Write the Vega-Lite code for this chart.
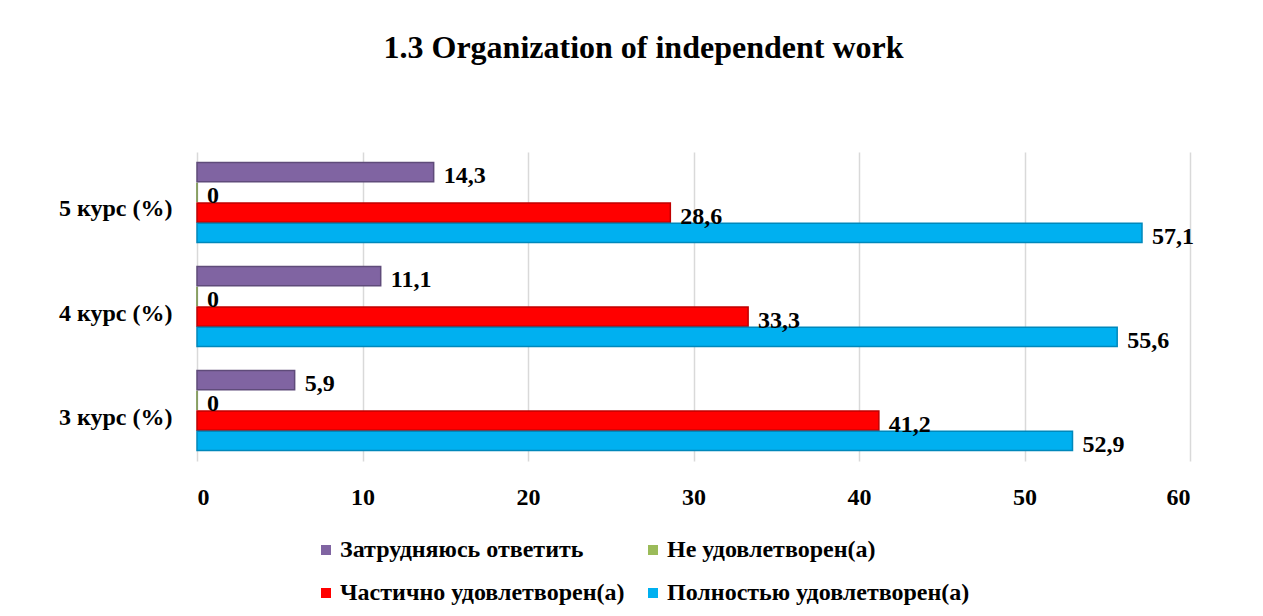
{
  "$schema": "https://vega.github.io/schema/vega-lite/v6.json",
  "width": 993,
  "height": 309,
  "autosize": {"type": "none"},
  "padding": {"left": 197, "top": 152, "right": 73, "bottom": 155},
  "background": "white",
  "title": {
    "text": "1.3 Organization of independent work",
    "font": "Liberation Serif",
    "fontSize": 32,
    "fontWeight": "bold",
    "color": "black",
    "anchor": "middle",
    "frame": "group",
    "dx": -50,
    "offset": 87
  },
  "config": {
    "view": {"stroke": null},
    "locale": {"number": {"decimal": ",", "thousands": " ", "grouping": [3], "currency": ["", ""]}}
  },
  "data": {
    "values": [
      {"course": "3 курс (%)", "series": "Затрудняюсь ответить", "value": 5.9},
      {"course": "3 курс (%)", "series": "Не удовлетворен(а)", "value": 0},
      {"course": "3 курс (%)", "series": "Частично удовлетворен(а)", "value": 41.2},
      {"course": "3 курс (%)", "series": "Полностью удовлетворен(а)", "value": 52.9},
      {"course": "4 курс (%)", "series": "Затрудняюсь ответить", "value": 11.1},
      {"course": "4 курс (%)", "series": "Не удовлетворен(а)", "value": 0},
      {"course": "4 курс (%)", "series": "Частично удовлетворен(а)", "value": 33.3},
      {"course": "4 курс (%)", "series": "Полностью удовлетворен(а)", "value": 55.6},
      {"course": "5 курс (%)", "series": "Затрудняюсь ответить", "value": 14.3},
      {"course": "5 курс (%)", "series": "Не удовлетворен(а)", "value": 0},
      {"course": "5 курс (%)", "series": "Частично удовлетворен(а)", "value": 28.6},
      {"course": "5 курс (%)", "series": "Полностью удовлетворен(а)", "value": 57.1}
    ]
  },
  "encoding": {
    "y": {
      "field": "course",
      "type": "nominal",
      "sort": ["5 курс (%)", "4 курс (%)", "3 курс (%)"],
      "scale": {"paddingInner": 0.23, "paddingOuter": 0.1},
      "axis": {
        "title": null,
        "domain": false,
        "ticks": false,
        "labelFont": "Liberation Serif",
        "labelFontSize": 24,
        "labelFontWeight": "bold",
        "labelColor": "black",
        "labelPadding": 25,
        "labelOffset": 7
      }
    },
    "yOffset": {
      "field": "series",
      "type": "nominal",
      "sort": ["Затрудняюсь ответить", "Не удовлетворен(а)", "Частично удовлетворен(а)", "Полностью удовлетворен(а)"],
      "scale": {"paddingInner": 0.05}
    },
    "x": {
      "field": "value",
      "type": "quantitative",
      "scale": {"domain": [0, 60], "nice": false},
      "axis": {
        "title": null,
        "values": [0, 10, 20, 30, 40, 50, 60],
        "domain": false,
        "ticks": false,
        "grid": true,
        "gridColor": "#D9D9D9",
        "gridWidth": 1.5,
        "labelFont": "Liberation Serif",
        "labelFontSize": 24,
        "labelFontWeight": "bold",
        "labelColor": "black",
        "labelPadding": 24
      }
    }
  },
  "layer": [
    {
      "mark": {"type": "bar", "strokeWidth": 1.5},
      "encoding": {
        "color": {
          "field": "series",
          "type": "nominal",
          "scale": {
            "domain": ["Затрудняюсь ответить", "Не удовлетворен(а)", "Частично удовлетворен(а)", "Полностью удовлетворен(а)"],
            "range": ["#8064A2", "#9BBB59", "#FF0000", "#00B0F0"]
          },
          "legend": {
            "title": null,
            "orient": "none",
            "legendX": 117,
            "legendY": 386,
            "direction": "horizontal",
            "columns": 2,
            "symbolType": "square",
            "symbolSize": 100,
            "symbolStrokeWidth": 0,
            "labelFont": "Liberation Serif",
            "labelFontSize": 24,
            "labelFontWeight": "bold",
            "labelColor": "black",
            "labelLimit": 400,
            "labelOffset": 2,
            "rowPadding": 19,
            "columnPadding": 16,
            "symbolOffset": 0
          }
        },
        "stroke": {
          "field": "series",
          "type": "nominal",
          "scale": {
            "domain": ["Затрудняюсь ответить", "Не удовлетворен(а)", "Частично удовлетворен(а)", "Полностью удовлетворен(а)"],
            "range": ["#5F4B7A", "#6E8B3D", "#C00000", "#0088BB"]
          },
          "legend": null
        }
      }
    },
    {
      "mark": {
        "type": "text",
        "align": "left",
        "baseline": "middle",
        "dx": 10,
        "dy": 4,
        "font": "Liberation Serif",
        "fontSize": 24,
        "fontWeight": "bold",
        "color": "black"
      },
      "encoding": {
        "text": {"field": "value", "type": "quantitative", "format": ",.1~f"}
      }
    }
  ]
}
